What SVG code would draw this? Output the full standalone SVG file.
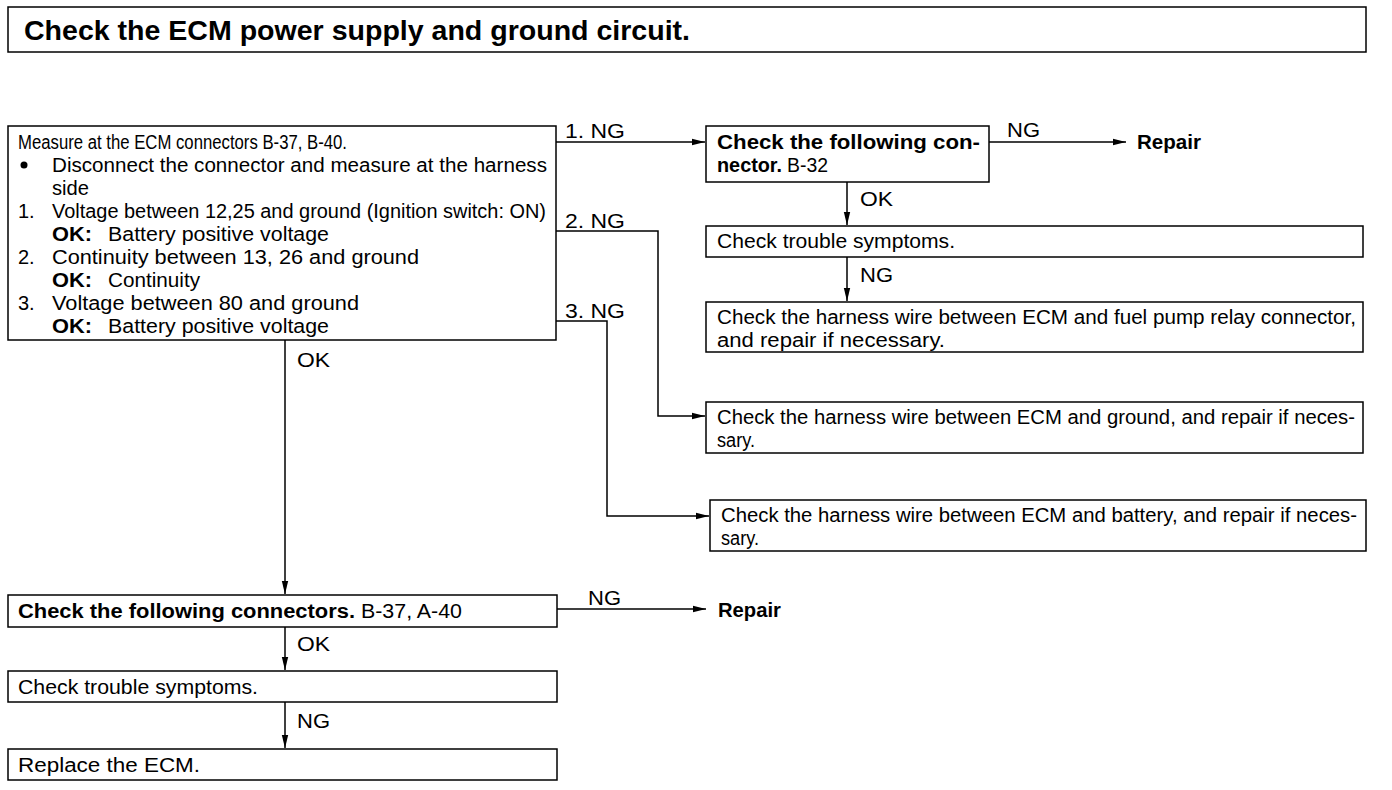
<svg xmlns="http://www.w3.org/2000/svg" width="1392" height="790" viewBox="0 0 1392 790">
<style>
text{font-family:"Liberation Sans",Arial,sans-serif;font-size:20px;fill:#000}
.b{font-weight:bold}
.lb{font-size:21px}
.box{fill:#fff;stroke:#000;stroke-width:1.5}
.ln{fill:none;stroke:#000;stroke-width:1.5}
</style>
<defs>
<marker id="ah" markerWidth="14" markerHeight="8" refX="13" refY="4" orient="auto" markerUnits="userSpaceOnUse">
<path d="M0,0.8 L13,4 L0,7.2 Z" fill="#000"/>
</marker>
</defs>
<rect width="1392" height="790" fill="#fff"/>

<g id="title">
<rect class="box" x="8" y="7" width="1358" height="45"/>
<text class="b" x="24" y="40" style="font-size:28px" textLength="666" lengthAdjust="spacingAndGlyphs">Check the ECM power supply and ground circuit.</text>
</g>

<g id="measure">
<rect class="box" x="8" y="126" width="548" height="214"/>
<text x="18" y="149" textLength="329" lengthAdjust="spacingAndGlyphs">Measure at the ECM connectors B-37, B-40.</text>
<circle cx="24" cy="165" r="3.5" fill="#000"/>
<text x="52" y="172" textLength="495" lengthAdjust="spacingAndGlyphs">Disconnect the connector and measure at the harness</text>
<text x="52" y="195" textLength="37" lengthAdjust="spacingAndGlyphs">side</text>
<text x="18" y="218">1.</text>
<text x="52" y="218" textLength="494" lengthAdjust="spacingAndGlyphs">Voltage between 12,25 and ground (Ignition switch: ON)</text>
<text class="b" x="52" y="241" textLength="40" lengthAdjust="spacingAndGlyphs">OK:</text>
<text x="108" y="241" textLength="221" lengthAdjust="spacingAndGlyphs">Battery positive voltage</text>
<text x="18" y="264">2.</text>
<text x="52" y="264" textLength="367" lengthAdjust="spacingAndGlyphs">Continuity between 13, 26 and ground</text>
<text class="b" x="52" y="287" textLength="40" lengthAdjust="spacingAndGlyphs">OK:</text>
<text x="108" y="287" textLength="92" lengthAdjust="spacingAndGlyphs">Continuity</text>
<text x="18" y="310">3.</text>
<text x="52" y="310" textLength="307" lengthAdjust="spacingAndGlyphs">Voltage between 80 and ground</text>
<text class="b" x="52" y="333" textLength="40" lengthAdjust="spacingAndGlyphs">OK:</text>
<text x="108" y="333" textLength="221" lengthAdjust="spacingAndGlyphs">Battery positive voltage</text>
</g>

<g id="check-b32">
<rect class="box" x="706" y="126" width="283" height="56"/>
<text class="b" x="717" y="149" textLength="263" lengthAdjust="spacingAndGlyphs">Check the following con-</text>
<text class="b" x="717" y="172" textLength="65" lengthAdjust="spacingAndGlyphs">nector.</text>
<text x="787" y="172" textLength="41" lengthAdjust="spacingAndGlyphs">B-32</text>
</g>

<g id="repair-1">
<text class="b" x="1137" y="149" textLength="64" lengthAdjust="spacingAndGlyphs">Repair</text>
</g>

<g id="trouble-1">
<rect class="box" x="706" y="226" width="657" height="31"/>
<text x="717" y="248" textLength="238" lengthAdjust="spacingAndGlyphs">Check trouble symptoms.</text>
</g>

<g id="fuel-pump">
<rect class="box" x="706" y="302" width="657" height="50"/>
<text x="717" y="324" textLength="639" lengthAdjust="spacingAndGlyphs">Check the harness wire between ECM and fuel pump relay connector,</text>
<text x="717" y="347" textLength="228" lengthAdjust="spacingAndGlyphs">and repair if necessary.</text>
</g>

<g id="ground">
<rect class="box" x="706" y="402" width="657" height="51"/>
<text x="717" y="424" textLength="638" lengthAdjust="spacingAndGlyphs">Check the harness wire between ECM and ground, and repair if neces-</text>
<text x="717" y="447" textLength="38" lengthAdjust="spacingAndGlyphs">sary.</text>
</g>

<g id="battery">
<rect class="box" x="710" y="500" width="656" height="51"/>
<text x="721" y="522" textLength="636" lengthAdjust="spacingAndGlyphs">Check the harness wire between ECM and battery, and repair if neces-</text>
<text x="721" y="545" textLength="38" lengthAdjust="spacingAndGlyphs">sary.</text>
</g>

<g id="check-b37">
<rect class="box" x="8" y="595" width="549" height="32"/>
<text class="b" x="18" y="618" textLength="337" lengthAdjust="spacingAndGlyphs">Check the following connectors.</text>
<text x="361" y="618" textLength="101" lengthAdjust="spacingAndGlyphs">B-37, A-40</text>
</g>

<g id="repair-2">
<text class="b" x="718" y="617" textLength="63" lengthAdjust="spacingAndGlyphs">Repair</text>
</g>

<g id="trouble-2">
<rect class="box" x="8" y="671" width="549" height="31"/>
<text x="18" y="694" textLength="240" lengthAdjust="spacingAndGlyphs">Check trouble symptoms.</text>
</g>

<g id="replace">
<rect class="box" x="8" y="749" width="549" height="31"/>
<text x="18" y="772" textLength="182" lengthAdjust="spacingAndGlyphs">Replace the ECM.</text>
</g>

<g id="connectors">
<path class="ln" d="M556,142 H705" marker-end="url(#ah)"/>
<text class="lb" x="565" y="138" textLength="60" lengthAdjust="spacingAndGlyphs">1. NG</text>
<path class="ln" d="M556,231 H658 V416 H705" marker-end="url(#ah)"/>
<text class="lb" x="565" y="228" textLength="60" lengthAdjust="spacingAndGlyphs">2. NG</text>
<path class="ln" d="M556,321 H607 V516 H709" marker-end="url(#ah)"/>
<text class="lb" x="565" y="318" textLength="60" lengthAdjust="spacingAndGlyphs">3. NG</text>
<path class="ln" d="M285,340 V594" marker-end="url(#ah)"/>
<text class="lb" x="297" y="367" textLength="33" lengthAdjust="spacingAndGlyphs">OK</text>
<path class="ln" d="M989,142 H1126" marker-end="url(#ah)"/>
<text class="lb" x="1007" y="137" textLength="33" lengthAdjust="spacingAndGlyphs">NG</text>
<path class="ln" d="M847,182 V225" marker-end="url(#ah)"/>
<text class="lb" x="860" y="206" textLength="33" lengthAdjust="spacingAndGlyphs">OK</text>
<path class="ln" d="M847,257 V301" marker-end="url(#ah)"/>
<text class="lb" x="860" y="282" textLength="33" lengthAdjust="spacingAndGlyphs">NG</text>
<path class="ln" d="M557,609 H706" marker-end="url(#ah)"/>
<text class="lb" x="588" y="605" textLength="33" lengthAdjust="spacingAndGlyphs">NG</text>
<path class="ln" d="M285,627 V670" marker-end="url(#ah)"/>
<text class="lb" x="297" y="651" textLength="33" lengthAdjust="spacingAndGlyphs">OK</text>
<path class="ln" d="M285,702 V748" marker-end="url(#ah)"/>
<text class="lb" x="297" y="728" textLength="33" lengthAdjust="spacingAndGlyphs">NG</text>
</g>
</svg>
